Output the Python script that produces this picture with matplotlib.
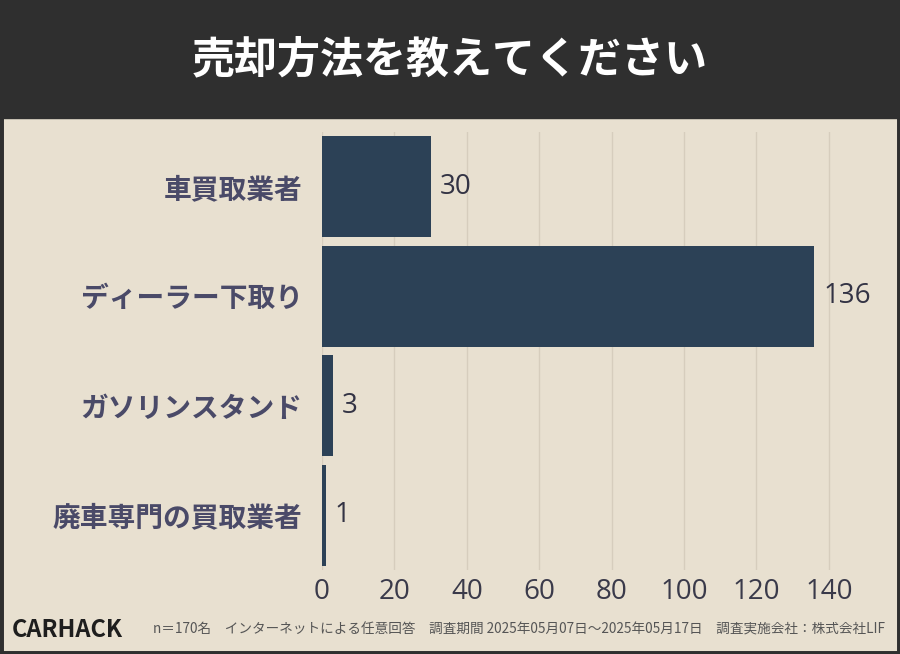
import matplotlib
matplotlib.use("Agg")
import matplotlib.pyplot as plt
from matplotlib.patches import Rectangle

plt.rcParams["font.family"] = ["Noto Sans CJK JP", "DejaVu Sans"]

categories = ["車買取業者", "ディーラー下取り", "ガソリンスタンド", "廃車専門の買取業者"]
counts = [30, 136, 3, 1]
xticks = [0, 20, 40, 60, 80, 100, 120, 140]
title = "売却方法を教えてください"
footer = "n＝170名　インターネットによる任意回答　調査期間 2025年05月07日～2025年05月17日　調査実施会社：株式会社LIF"

bg = "#e8e0d0"
bar_c = "#2c4156"
txt_c = "#4a4a68"
num_font = ["Open Sans", "DejaVu Sans"]

fig = plt.figure(figsize=(9, 6.54), dpi=100, facecolor=bg)
fig.patches.append(Rectangle((0, 1 - 118 / 654), 1, 118 / 654, transform=fig.transFigure,
                             color="#2f2f2f", zorder=0))
fig.patches.append(Rectangle((0, 0), 1, 1, transform=fig.transFigure, fill=False,
                             edgecolor="#2f2f2f", linewidth=5, zorder=5))
fig.text(0.5, 1 - 59 / 654, title, color="white", fontsize=31, fontweight="bold",
         ha="center", va="center")

ax = fig.add_axes([322 / 900, 1 - 570 / 654, 543 / 900, 438 / 654])
ax.set_facecolor(bg)
y = list(range(len(categories)))
ax.barh(y, counts, height=0.92, color=bar_c, zorder=3)
for yi, v in zip(y, counts):
    ax.text(v + 2.5, yi, str(v), va="center", ha="left", fontsize=20, color="#333344",
            family=num_font)
ax.set_ylim(3.5, -0.5)
ax.set_xlim(0, 150)
ax.set_xticks(xticks)
ax.set_xticklabels([str(t) for t in xticks], family=num_font)
ax.set_yticks(y)
ax.set_yticklabels(categories, fontsize=20, fontweight="bold", color=txt_c)
ax.tick_params(axis="x", labelsize=20, labelcolor="#3a3a4a", length=0, pad=6)
ax.tick_params(axis="y", length=0, pad=14)
ax.grid(axis="x", color="#d6cdbd", linewidth=1, zorder=0)
for s in ax.spines.values():
    s.set_visible(False)

fig.text(12 / 900, 1 - 630 / 654, "CARHACK", fontsize=17, fontweight="heavy",
         fontstyle="italic", color="#1e1e1e", va="center", ha="left")
fig.text(153 / 900, 1 - 630 / 654, footer, fontsize=9.8, color="#555555",
         va="center", ha="left")

fig.savefig("out.png", dpi=100, facecolor=bg)
